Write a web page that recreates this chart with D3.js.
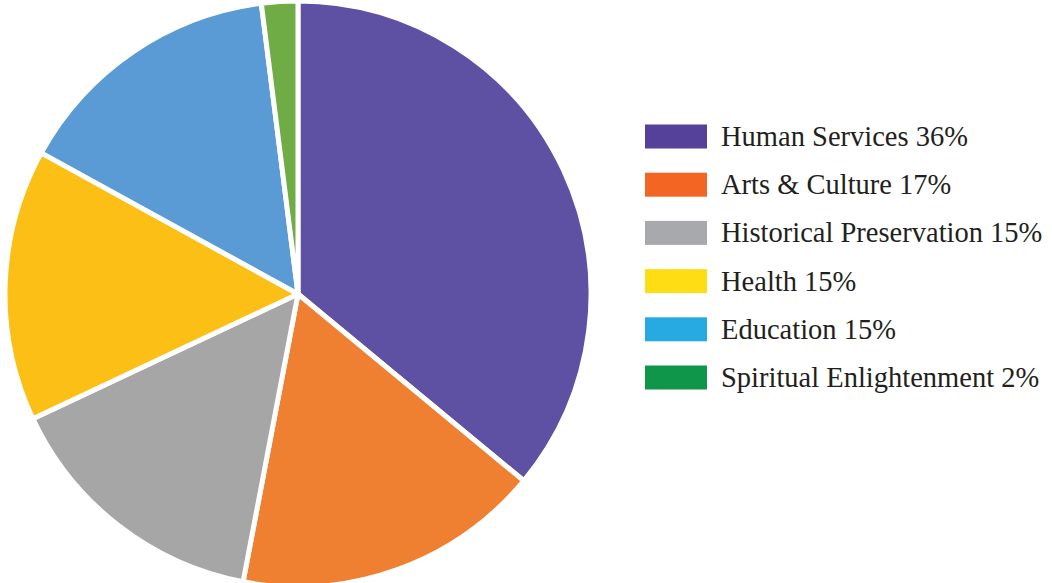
<!DOCTYPE html>
<html>
<head>
<meta charset="utf-8">
<script src="https://cdn.jsdelivr.net/npm/d3@7"></script>
<style>
    body { margin: 0; background: #fff; }
    svg { display: block; }
</style>
</head>
<body>
<div id="chart"></div>
<script>
// chart data
let categories = ["Human Services", "Arts & Culture", "Historical Preservation", "Health", "Education", "Spiritual Enlightenment"];
let shares = [36, 17, 15, 15, 15, 2];
let sliceColors = ["#5E50A3", "#EF7F31", "#A6A6A6", "#FCBF16", "#5A9BD5", "#6FAC46"];
let legendColors = ["#55409A", "#F26522", "#A7A9AC", "#FFDD15", "#27AAE1", "#10964A"];

let width = 1052, height = 583;

let svg = d3.select("#chart").append("svg")
    .attr("width", width)
    .attr("height", height);

let data = categories.map((c, i) => ({name: c, value: shares[i], i: i}));

// pie, starting at 12 o'clock, clockwise
let pie = d3.pie().sort(null).value(d => d.value);
let arc = d3.arc().innerRadius(0).outerRadius(293);

let g = svg.append("g")
    .attr("transform", "translate(298, 294)");

g.selectAll("path")
    .data(pie(data))
    .enter().append("path")
    .attr("d", arc)
    .attr("fill", d => sliceColors[d.data.i])
    .attr("stroke", "#fff")
    .attr("stroke-width", 5)
    .attr("stroke-linejoin", "round");

// legend
let y = d3.scalePoint()
    .domain(categories)
    .range([136.5, 377.5]);

let legend = svg.append("g").attr("class", "legend");

let rows = legend.selectAll("g")
    .data(data)
    .enter().append("g")
    .attr("transform", d => `translate(645, ${y(d.name)})`);

rows.append("rect")
    .attr("x", 0)
    .attr("y", -12)
    .attr("width", 62)
    .attr("height", 24)
    .attr("fill", d => legendColors[d.i]);

rows.append("text")
    .attr("x", 76)
    .attr("y", 9.5)
    .attr("font-family", "'Liberation Serif', 'DejaVu Serif', serif")
    .attr("font-size", 28.5)
    .attr("fill", "#231F20")
    .text(d => `${d.name} ${d.value}%`);
</script>
</body>
</html>
